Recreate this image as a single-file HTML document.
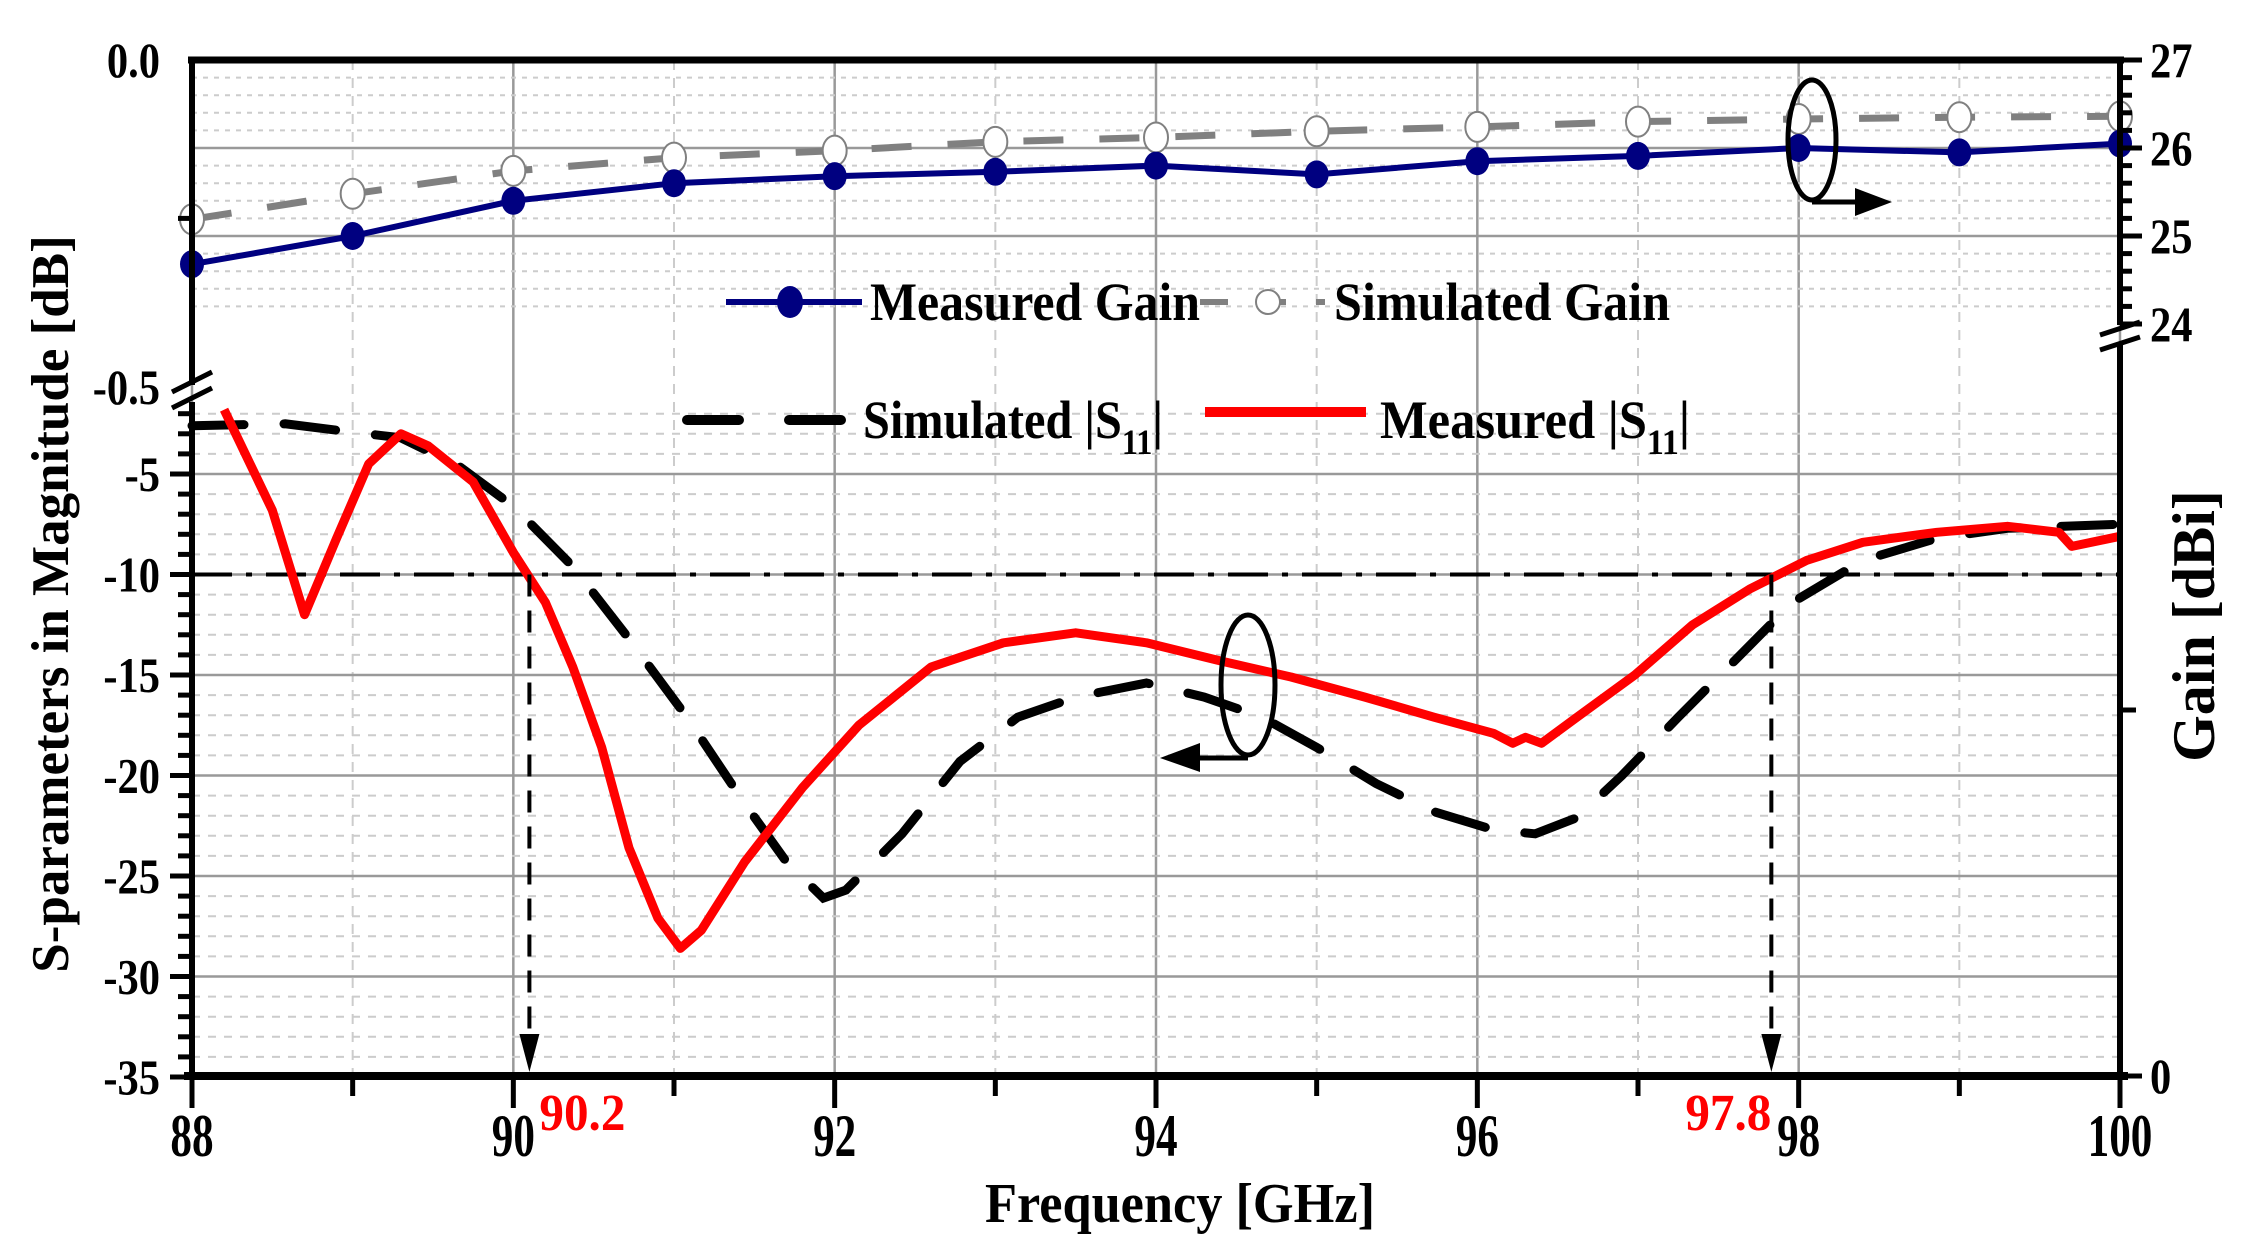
<!DOCTYPE html>
<html><head><meta charset="utf-8"><style>
html,body{margin:0;padding:0;background:#fff;}
svg{display:block;font-family:"Liberation Serif",serif;font-weight:bold;}
</style></head><body>
<svg id="chart" width="2243" height="1248" viewBox="0 0 2243 1248" xmlns="http://www.w3.org/2000/svg">
<g id="grid"></g>
<g id="series"></g>
<g id="axes"></g>
<g id="legend">
  <line x1="726" y1="302" x2="862" y2="302" stroke="#000080" stroke-width="6"/>
  <ellipse cx="790" cy="302" rx="13" ry="16" fill="#000080"/>
  <text x="870" y="320" font-size="54" textLength="330" lengthAdjust="spacingAndGlyphs">Measured Gain</text>
  <line x1="1200" y1="302" x2="1325" y2="302" stroke="#808080" stroke-width="6" stroke-dasharray="28,30"/>
  <circle cx="1268" cy="302" r="12" fill="#fff" stroke="#808080" stroke-width="2"/>
  <text x="1334" y="320" font-size="54" textLength="336" lengthAdjust="spacingAndGlyphs">Simulated Gain</text>
  <line x1="687" y1="420" x2="848" y2="420" stroke="#000" stroke-width="10" stroke-dasharray="52,50" stroke-linecap="round"/>
  <text x="863" y="438" font-size="54" textLength="300" lengthAdjust="spacingAndGlyphs">Simulated |S<tspan font-size="36" dy="16">11</tspan><tspan dy="-16">|</tspan></text>
  <line x1="1205" y1="412" x2="1366" y2="412" stroke="#ff0000" stroke-width="10"/>
  <text x="1380" y="438" font-size="54" textLength="310" lengthAdjust="spacingAndGlyphs">Measured |S<tspan font-size="36" dy="16">11</tspan><tspan dy="-16">|</tspan></text>
</g>
<g id="annot"></g>
</svg>
<script>
const freqGain = [88,89,90,91,92,93,94,95,96,97,98,99,100];
const measGain = [24.68,25.0,25.4,25.6,25.68,25.73,25.8,25.7,25.85,25.91,26.0,25.95,26.05];
const simGain = [25.19,25.48,25.74,25.89,25.97,26.07,26.12,26.19,26.24,26.3,26.33,26.35,26.36];
const measS11F = [88.2,88.5,88.7,88.9,89.1,89.3,89.47,89.75,90.0,90.2,90.37,90.55,90.72,90.9,91.04,91.17,91.44,91.8,92.15,92.6,93.05,93.5,93.94,94.4,94.84,95.3,95.73,96.1,96.22,96.3,96.4,96.62,96.98,97.34,97.7,98.05,98.4,98.86,99.3,99.62,99.7,100];
const measS11 = [-1.8,-6.8,-12,-8.2,-4.5,-3,-3.6,-5.4,-8.9,-11.4,-14.6,-18.6,-23.6,-27.1,-28.6,-27.7,-24.3,-20.6,-17.5,-14.6,-13.4,-12.9,-13.4,-14.3,-15.1,-16.1,-17.1,-17.9,-18.4,-18.1,-18.4,-17.1,-15,-12.5,-10.7,-9.3,-8.4,-7.9,-7.6,-7.9,-8.6,-8.1];
const simS11F = [88,88.58,88.98,89.3,89.66,90.0,90.37,90.72,91.08,91.44,91.7,91.93,92.07,92.42,92.78,93.14,93.5,93.94,94.3,94.66,95.0,95.37,95.73,96.1,96.36,96.62,96.9,97.25,97.6,97.96,98.4,98.86,99.3,100];
const simS11 = [-2.6,-2.5,-2.9,-3.2,-4.6,-6.6,-9.6,-13.2,-17.1,-21.4,-24.3,-26.1,-25.7,-22.9,-19.3,-17.1,-16.1,-15.4,-16.1,-17.1,-18.6,-20.4,-21.8,-22.7,-22.9,-22.1,-20,-17.1,-14.3,-11.4,-9.3,-8.2,-7.7,-7.5];
const xTicks = [88,90,92,94,96,98,100];
const dbTicks = [-5,-10,-15,-20,-25,-30,-35];
const gainTicks = [27,26,25,24];
const markFreqs = [90.1,97.83];
const markLabels = ["90.2","97.8"];

const X0=192,X1=2120,YT=60,YB=1076;
const xs=f=>X0+(f-88)/12*(X1-X0);
const yd=d=>474+(-5-d)*20.1;
const yg=g=>60+(27-g)*88;
const NS="http://www.w3.org/2000/svg";
function mk(p,t,a){const e=document.createElementNS(NS,t);for(const k in a)e.setAttribute(k,a[k]);p.appendChild(e);return e;}
const grid=document.getElementById('grid'),ser=document.getElementById('series'),ax=document.getElementById('axes'),an=document.getElementById('annot');

for(let f=88;f<=100;f++){
  const g=mk(grid,'line',{x1:xs(f),y1:YT,x2:xs(f),y2:YB,stroke:f%2?'#ccc':'#999','stroke-width':f%2?2:2.5,'stroke-dasharray':f%2?'10,8':'none'});
  
  
}
for(let d=-2;d>=-34;d--){
  const maj=d%5===0;
  const g=mk(grid,'line',{x1:X0,y1:yd(d),x2:X1,y2:yd(d),stroke:maj?'#999':'#ccc','stroke-width':maj?2.5:2,'stroke-dasharray':maj?'none':'8,8'});
  
  
}
for(let g=26.8;g>24.05;g-=0.2){
  const r=Math.round(g*10)/10, maj=(r===26||r===25);
  const l=mk(grid,'line',{x1:X0,y1:yg(r),x2:X1,y2:yg(r),stroke:maj?'#999':'#ccc','stroke-width':maj?2.5:2,'stroke-dasharray':maj?'none':'5,6'});
  
  
}
const ref=mk(grid,'line',{x1:X0,y1:yd(-10),x2:X1,y2:yd(-10),stroke:'#000','stroke-width':4,'stroke-dasharray':'40,14,6,14'});



function path(fs,vs,yf){return fs.map((f,i)=>(i?'L':'M')+xs(f).toFixed(1)+','+yf(vs[i]).toFixed(1)).join('');}
const sp=mk(ser,'path',{d:path(simS11F,simS11,yd),fill:'none',stroke:'#000','stroke-width':9,'stroke-dasharray':'52,40','stroke-linecap':'round'});


const mp=mk(ser,'path',{d:path(measS11F,measS11,yd),fill:'none',stroke:'#ff0000','stroke-width':9,'stroke-linejoin':'round'});


const sg=mk(ser,'path',{d:path(freqGain,simGain,yg),fill:'none',stroke:'#808080','stroke-width':7,'stroke-dasharray':'40,36'});


freqGain.forEach((f,i)=>{
  const c=mk(ser,'ellipse',{cx:xs(f),cy:yg(simGain[i]),rx:12,ry:15,fill:'#fff',stroke:'#808080','stroke-width':2});
  
  
});
const mg=mk(ser,'path',{d:path(freqGain,measGain,yg),fill:'none',stroke:'#000080','stroke-width':6});


freqGain.forEach((f,i)=>{
  const c=mk(ser,'ellipse',{cx:xs(f),cy:yg(measGain[i]),rx:12,ry:14,fill:'#000080'});
  
  
});

mk(ax,'line',{x1:X0-4,y1:YT,x2:X1+4,y2:YT,stroke:'#000','stroke-width':7});
mk(ax,'line',{x1:X0-8,y1:YB,x2:X1+8,y2:YB,stroke:'#000','stroke-width':8});
mk(ax,'line',{x1:X0,y1:YT,x2:X0,y2:385,stroke:'#000','stroke-width':6});
mk(ax,'line',{x1:X0,y1:402,x2:X0,y2:YB,stroke:'#000','stroke-width':6});
mk(ax,'line',{x1:X1,y1:YT,x2:X1,y2:325,stroke:'#000','stroke-width':6});
mk(ax,'line',{x1:X1,y1:345,x2:X1,y2:YB,stroke:'#000','stroke-width':6});
mk(ax,'path',{d:'M172,392 L212,372 M172,408 L212,388',stroke:'#000','stroke-width':5,fill:'none'});
mk(ax,'path',{d:'M2100,335 L2140,322 M2100,350 L2140,337',stroke:'#000','stroke-width':5,fill:'none'});
for(let f=88;f<=100;f++){
  mk(ax,'line',{x1:xs(f),y1:YB,x2:xs(f),y2:YB+(f%2?20:32),stroke:'#000','stroke-width':5});
}
xTicks.forEach(f=>{
  const t=mk(ax,'text',{x:xs(f),y:1156,'font-size':60,'text-anchor':'middle',transform:`translate(${xs(f)},0) scale(0.72,1) translate(${-xs(f)},0)`});
  t.textContent=f;
  
  
});
for(let d=-2;d>=-35;d--){
  mk(ax,'line',{x1:X0-(d%5===0?22:14),y1:yd(d),x2:X0,y2:yd(d),stroke:'#000','stroke-width':5});
}
dbTicks.forEach(d=>{
  const t=mk(ax,'text',{x:160,y:yd(d)+17,'font-size':50,'text-anchor':'end',transform:`translate(160,0) scale(0.85,1) translate(-160,0)`});
  t.textContent=d;
  
  
});
[['0.0',YT],['-0.5',387]].forEach(p=>{
  const t=mk(ax,'text',{x:160,y:p[1]+17,'font-size':50,'text-anchor':'end',transform:`translate(160,0) scale(0.85,1) translate(-160,0)`});
  t.textContent=p[0];
  
  
});
mk(ax,'line',{x1:X0-14,y1:yg(25.2),x2:X0,y2:yg(25.2),stroke:'#000','stroke-width':5});
for(let g=27;g>=24;g=Math.round((g-0.2)*10)/10){
  const maj=Number.isInteger(g);
  mk(ax,'line',{x1:X1,y1:yg(g),x2:X1+(maj?22:12),y2:yg(g),stroke:'#000','stroke-width':5});
}
gainTicks.forEach(g=>{
  const t=mk(ax,'text',{x:2150,y:yg(g)+17,'font-size':50,transform:`translate(2150,0) scale(0.85,1) translate(-2150,0)`});
  t.textContent=g;
  
  
});
mk(ax,'line',{x1:X1,y1:710,x2:X1+16,y2:710,stroke:'#000','stroke-width':5});
mk(ax,'line',{x1:X1,y1:YB,x2:X1+22,y2:YB,stroke:'#000','stroke-width':5});
const z=mk(ax,'text',{x:2150,y:YB+17,'font-size':50,transform:`translate(2150,0) scale(0.85,1) translate(-2150,0)`});z.textContent='0';


const yt=mk(ax,'text',{x:0,y:0,'font-size':53,'text-anchor':'middle',transform:'translate(68,604) rotate(-90)'});
yt.textContent='S-parameters in Magnitude [dB]';


const gt=mk(ax,'text',{x:0,y:0,'font-size':60,'text-anchor':'middle',transform:'translate(2214,626) rotate(-90)'});
gt.textContent='Gain [dBi]';


const xt=mk(ax,'text',{x:1180,y:1222,'font-size':56,'text-anchor':'middle',textLength:390,lengthAdjust:'spacingAndGlyphs'});
xt.textContent='Frequency  [GHz]';



markFreqs.forEach((f,i)=>{
  const x=xs(f);
  mk(an,'line',{x1:x,y1:yd(-10),x2:x,y2:YB-40,stroke:'#000','stroke-width':4,'stroke-dasharray':'22,14'});
  mk(an,'path',{d:`M${x-10},${YB-42} L${x+10},${YB-42} L${x},${YB-4} Z`,fill:'#000'});
  const t=mk(an,'text',{x:i?x:x+10,y:1130,'font-size':52,fill:'#ff0000','text-anchor':i?'end':'start',textLength:86,lengthAdjust:'spacingAndGlyphs'});
  t.textContent=markLabels[i];
  
  
});
mk(an,'ellipse',{cx:1812,cy:140,rx:24,ry:60,fill:'none',stroke:'#000','stroke-width':5});
mk(an,'path',{d:'M1812,202 L1860,202',stroke:'#000','stroke-width':5});
mk(an,'path',{d:'M1855,188 L1892,202 L1855,216 Z',fill:'#000'});
mk(an,'ellipse',{cx:1248,cy:685,rx:27,ry:70,fill:'none',stroke:'#000','stroke-width':5});
mk(an,'path',{d:'M1248,758 L1190,758',stroke:'#000','stroke-width':5});
mk(an,'path',{d:'M1200,743 L1160,758 L1200,772 Z',fill:'#000'});
</script>
</body></html>
